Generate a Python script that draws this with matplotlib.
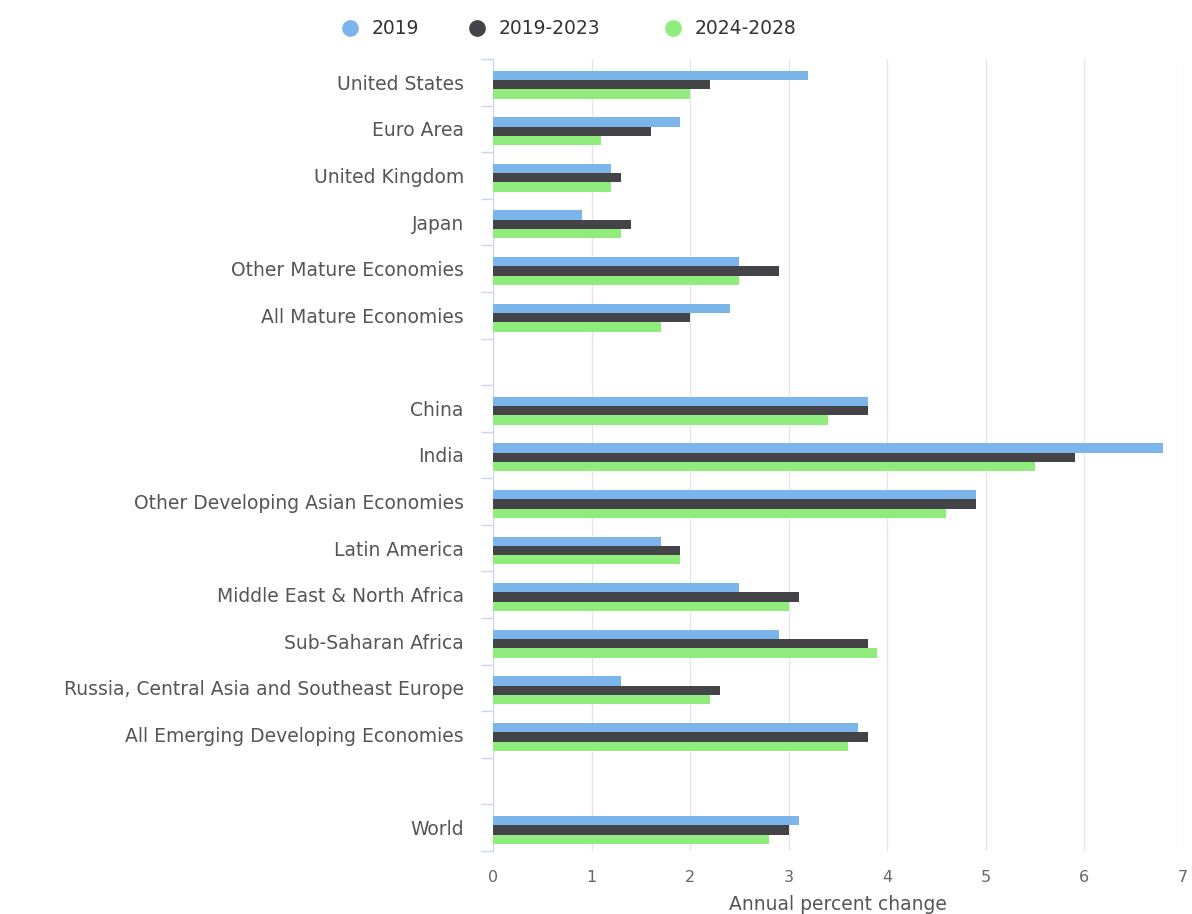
import matplotlib
matplotlib.use("Agg")
import matplotlib.pyplot as plt
import numpy as np
from matplotlib.lines import Line2D

plt.rcParams["font.family"] = ["DejaVu Sans"]

categories = ["United States", "Euro Area", "United Kingdom", "Japan",
              "Other Mature Economies", "All Mature Economies", "",
              "China", "India", "Other Developing Asian Economies", "Latin America",
              "Middle East & North Africa", "Sub-Saharan Africa",
              "Russia, Central Asia and Southeast Europe",
              "All Emerging Developing Economies", "", "World"]
series_names = ["2019", "2019-2023", "2024-2028"]
v2019 = [3.2, 1.9, 1.2, 0.9, 2.5, 2.4, None, 3.8, 6.8, 4.9, 1.7, 2.5, 2.9, 1.3, 3.7, None, 3.1]
v2019_2023 = [2.2, 1.6, 1.3, 1.4, 2.9, 2.0, None, 3.8, 5.9, 4.9, 1.9, 3.1, 3.8, 2.3, 3.8, None, 3.0]
v2024_2028 = [2.0, 1.1, 1.2, 1.3, 2.5, 1.7, None, 3.4, 5.5, 4.6, 1.9, 3.0, 3.9, 2.2, 3.6, None, 2.8]
colors = ["#7cb5ec", "#434348", "#90ed7d"]
xticks = [0, 1, 2, 3, 4, 5, 6, 7]

W, H = 1192, 914
fig = plt.figure(figsize=(W/100, H/100), dpi=100)
ax = fig.add_axes([493/W, 1 - 851/H, (1183-493)/W, (851-59)/H])

n = len(categories)
y = np.arange(n)
bh = 0.2
offsets = [-0.2, 0.0, 0.2]
for vals, col, off, name in zip([v2019, v2019_2023, v2024_2028], colors, offsets, series_names):
    vv = np.array([np.nan if v is None else v for v in vals], dtype=float)
    ax.barh(y + off + 0.05, vv, height=bh, color=col, label=name, zorder=3)

ax.set_ylim(n - 0.5, -0.5)
ax.set_xlim(0, 7)
ax.set_yticks(y)
ax.set_yticklabels(categories, fontsize=13.5, color="#555555")
ax.set_yticks(np.arange(n + 1) - 0.5, minor=True)
ax.tick_params(axis="y", which="major", length=0, pad=21)
ax.tick_params(axis="y", which="minor", length=9, color="#ccd6eb", width=1)
ax.set_xticks(xticks)
ax.set_xticklabels([str(t) for t in xticks], fontsize=11.5, color="#666666")
ax.tick_params(axis="x", length=0, pad=14)
ax.grid(axis="x", color="#e6e6e6", linewidth=1, zorder=0)
for s in ["top", "right", "bottom"]:
    ax.spines[s].set_visible(False)
ax.spines["left"].set_color("#ccd6eb")
ax.set_xlabel("Annual percent change", fontsize=13.5, color="#555555", labelpad=7)

# legend, laid out like the reference (marker + label per series)
legend_x = [350, 477, 673]
legend_y = 1 - 28/H
for name, col, lx in zip(series_names, colors, legend_x):
    fig.add_artist(Line2D([lx/W], [legend_y], marker="o", linestyle="", markersize=11,
                          color=col, transform=fig.transFigure))
    fig.text((lx + 22)/W, legend_y, name, fontsize=13.5, color="#333333",
             va="center", ha="left")

fig.savefig("out.png", dpi=100)
